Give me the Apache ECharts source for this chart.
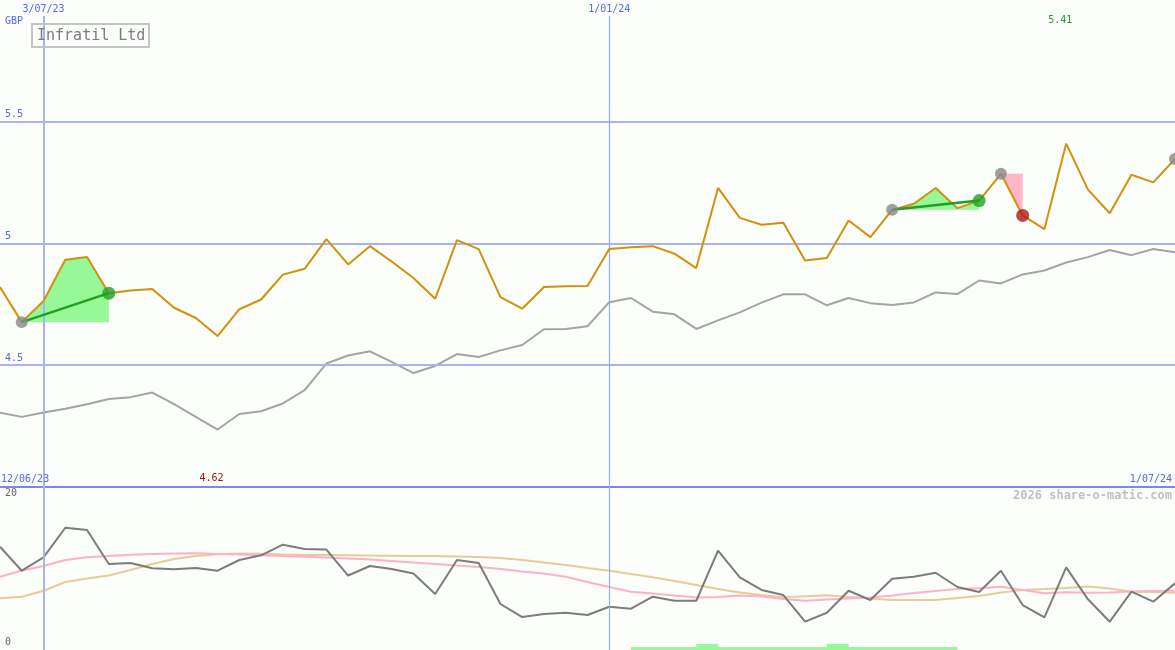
<!DOCTYPE html>
<html>
<head>
<meta charset="utf-8">
<script src="https://cdn.jsdelivr.net/npm/echarts@6/dist/echarts.min.js"></script>
<style>
html,body{margin:0;padding:0;background:#fbfefb;}
#c{width:1175px;height:650px;}
</style>
</head>
<body>
<div id="c"></div>
<script>
const categories = ['19/06/23','26/06/23','3/07/23','10/07/23','17/07/23','24/07/23','31/07/23','7/08/23','14/08/23','21/08/23',
'28/08/23','4/09/23','11/09/23','18/09/23','25/09/23','2/10/23','9/10/23','16/10/23','23/10/23','30/10/23',
'6/11/23','13/11/23','20/11/23','27/11/23','4/12/23','11/12/23','18/12/23','25/12/23','1/01/24','8/01/24',
'15/01/24','22/01/24','29/01/24','5/02/24','12/02/24','19/02/24','26/02/24','4/03/24','11/03/24','18/03/24',
'25/03/24','1/04/24','8/04/24','15/04/24','22/04/24','29/04/24','6/05/24','13/05/24','20/05/24','27/05/24',
'3/06/24','10/06/24','17/06/24','24/06/24','1/07/24'];

const price = [4.821,4.677,4.764,4.933,4.944,4.796,4.807,4.813,4.736,4.694,
4.62,4.730,4.770,4.872,4.896,5.018,4.914,4.989,4.926,4.858,
4.773,5.014,4.977,4.780,4.732,4.821,4.824,4.825,4.977,4.984,
4.989,4.958,4.899,5.228,5.105,5.077,5.085,4.930,4.940,5.094,
5.026,5.138,5.163,5.228,5.145,5.176,5.286,5.115,5.059,5.41,
5.221,5.124,5.282,5.251,5.347];

const relative = [4.305,4.288,4.306,4.321,4.340,4.361,4.369,4.388,4.340,4.288,
4.236,4.300,4.311,4.343,4.398,4.507,4.540,4.557,4.514,4.468,
4.497,4.546,4.534,4.561,4.583,4.648,4.649,4.660,4.759,4.776,
4.720,4.709,4.649,4.684,4.717,4.757,4.791,4.791,4.746,4.776,
4.755,4.747,4.758,4.799,4.792,4.848,4.836,4.873,4.889,4.922,
4.944,4.973,4.952,4.977,4.964];

const volatility = [13.94,10.70,12.51,16.50,16.19,11.61,11.74,11.03,10.89,11.07,
10.70,12.15,12.78,14.21,13.63,13.56,10.05,11.34,10.93,10.32,
7.56,12.15,11.74,6.21,4.45,4.86,5.03,4.72,5.84,5.57,
7.19,6.65,6.65,13.40,9.81,8.10,7.42,3.82,5.03,8.00,
6.75,9.62,9.89,10.43,8.50,7.83,10.70,6.07,4.41,11.16,
6.84,3.82,7.87,6.52,9.00];

const volAvgShort = [9.89,10.73,11.34,12.15,12.51,12.69,12.85,12.96,13.02,13.05,
12.96,12.89,12.78,12.69,12.59,12.48,12.35,12.21,12.01,11.81,
11.61,11.40,11.20,10.93,10.59,10.32,9.89,9.18,8.50,7.87,
7.62,7.35,7.09,7.15,7.35,7.22,6.88,6.65,6.82,6.95,
7.09,7.35,7.69,7.96,8.23,8.33,8.54,8.10,7.65,7.79,
7.73,7.76,7.89,7.96,8.00];

const volAvgLong = [6.98,7.19,8.00,9.18,9.65,10.05,10.80,11.61,12.28,12.69,
12.92,13.02,13.00,12.89,12.82,12.82,12.79,12.75,12.73,12.69,
12.69,12.62,12.55,12.42,12.15,11.81,11.47,11.07,10.70,10.26,
9.81,9.31,8.77,8.23,7.76,7.42,7.11,7.25,7.38,7.15,
6.95,6.75,6.75,6.75,7.02,7.29,7.76,8.10,8.23,8.37,
8.57,8.30,7.87,7.83,7.73];

const signalBars = [0,0,0,0,0,0,0,0,0,0,
0,0,0,0,0,0,0,0,0,0,
0,0,0,0,0,0,0,0,0,0.4,
0.4,0.4,0.8,0.4,0.4,0.4,0.4,0.4,0.8,0.4,
0.4,0.4,0.4,0.4,0,0,0,0,0,0,
0,0,0,0,0];

const priceTicks = [4.5, 5, 5.5];
const lowerTicks = [0, 20];
const dateMarks = ['3/07/23', '1/01/24'];
const rangeLabels = ['12/06/23', '1/07/24'];
const buySignals = [[1, 5], [41, 45]];
const sellSignals = [[46, 47]];
const endMarks = [54];
const currency = 'GBP';
const titleText = 'Infratil Ltd';
const credit = '2026 share-o-matic.com';

const MONO = '"DejaVu Sans Mono", monospace';
const BLUE = '#5566ee';
const GRIDBLUE = '#a6b4f6';

function rangeData(s, e) {
  return price.map((v, i) => (i >= s && i <= e) ? v : null);
}
function endsData(s, e) {
  return price.map((v, i) => (i === s || i === e) ? v : null);
}

const series = [];

series.push({
  type: 'line', xAxisIndex: 0, yAxisIndex: 0, data: relative, symbol: 'none', z: 2,
  lineStyle: { color: '#a4a4a4', width: 2 },
  markLine: {
    silent: true, symbol: 'none', animation: false,
    data: priceTicks.map(t => ({
      yAxis: t,
      lineStyle: { color: GRIDBLUE, width: 2, type: 'solid' },
      label: { show: true, position: 'insideStartTop', formatter: String(t), color: BLUE, fontFamily: MONO, fontSize: 10, distance: [5, 2] }
    })).concat(dateMarks.map((d, k) => ({
      xAxis: d, name: d,
      lineStyle: { color: k === 0 ? GRIDBLUE : '#99aaf8', width: k === 0 ? 2 : 1.2, type: 'solid' },
      label: { show: true, position: 'end', formatter: d, color: BLUE, fontFamily: MONO, fontSize: 10, distance: 2 }
    })))
  }
});

buySignals.forEach(([s, e]) => {
  series.push({
    type: 'line', xAxisIndex: 0, yAxisIndex: 0, data: rangeData(s, e), symbol: 'none', z: 3,
    lineStyle: { width: 0 }, areaStyle: { color: '#96f896', opacity: 1, origin: price[s] }
  });
});
sellSignals.forEach(([s, e]) => {
  series.push({
    type: 'line', xAxisIndex: 0, yAxisIndex: 0, data: rangeData(s, e), symbol: 'none', z: 3,
    lineStyle: { width: 0 }, areaStyle: { color: '#ffb6c8', opacity: 1, origin: price[s] }
  });
});

series.push({
  type: 'line', xAxisIndex: 0, yAxisIndex: 0, data: price, symbol: 'none', z: 5,
  lineStyle: { color: '#d4900a', width: 2 }
});

buySignals.forEach(([s, e]) => {
  series.push({
    type: 'line', xAxisIndex: 0, yAxisIndex: 0, data: endsData(s, e), connectNulls: true, symbol: 'none', z: 6,
    lineStyle: { color: '#22a022', width: 2.5 }
  });
});

const dots = [];
buySignals.forEach(([s, e]) => {
  dots.push({ value: [s, price[s]], itemStyle: { color: '#888888' }, symbolSize: 12 });
  dots.push({ value: [e, price[e]], itemStyle: { color: '#22a022' }, symbolSize: 13 });
});
sellSignals.forEach(([s, e]) => {
  dots.push({ value: [s, price[s]], itemStyle: { color: '#888888' }, symbolSize: 12 });
  dots.push({ value: [e, price[e]], itemStyle: { color: '#a81c1c' }, symbolSize: 13 });
});
endMarks.forEach(i => dots.push({ value: [i, price[i]], itemStyle: { color: '#888888' }, symbolSize: 12 }));
series.push({ type: 'scatter', xAxisIndex: 0, yAxisIndex: 0, data: dots, z: 7, symbol: 'circle' });

series.push({
  type: 'line', xAxisIndex: 1, yAxisIndex: 1, data: signalBars, step: 'end', symbol: 'none', z: 2,
  lineStyle: { width: 0 }, areaStyle: { color: '#96f896', opacity: 1 }
});
series.push({
  type: 'line', xAxisIndex: 1, yAxisIndex: 1, data: volAvgLong, symbol: 'none', z: 3,
  lineStyle: { color: '#e6cc9a', width: 2 }
});
series.push({
  type: 'line', xAxisIndex: 1, yAxisIndex: 1, data: volAvgShort, symbol: 'none', z: 3,
  lineStyle: { color: '#ffb0c8', width: 2 }
});
series.push({
  type: 'line', xAxisIndex: 1, yAxisIndex: 1, data: volatility, symbol: 'none', z: 4,
  lineStyle: { color: '#7c7c7c', width: 2 },
  markLine: {
    silent: true, symbol: 'none', animation: false, label: { show: false },
    data: dateMarks.map((d, k) => ({ xAxis: d, lineStyle: { color: k === 0 ? GRIDBLUE : '#99aaf8', width: k === 0 ? 2 : 1.2, type: 'solid' } }))
  }
});

const option = {
  animation: false,
  backgroundColor: '#fbfefb',
  title: {
    text: titleText, left: 32, top: 24, padding: [4, 4, 3, 5],
    borderColor: '#c4c4c4', borderWidth: 2,
    textStyle: { fontFamily: MONO, fontSize: 15, color: '#7a7a7a', fontWeight: 'normal', lineHeight: 16 }
  },
  grid: [
    { left: 0, right: 0, top: 16, height: 471 },
    { left: 0, right: 0, top: 487, height: 163 }
  ],
  xAxis: [
    { type: 'category', gridIndex: 0, data: categories, boundaryGap: false,
      axisLine: { show: true, lineStyle: { color: '#7a88ee', width: 2 } },
      axisTick: { show: false }, axisLabel: { show: false }, splitLine: { show: false } },
    { type: 'category', gridIndex: 1, data: categories, boundaryGap: false,
      axisLine: { show: false }, axisTick: { show: false }, axisLabel: { show: false }, splitLine: { show: false } }
  ],
  yAxis: [
    { type: 'value', gridIndex: 0, min: 4, max: 5.934, axisLine: { show: false }, axisTick: { show: false },
      axisLabel: { show: false }, splitLine: { show: false } },
    { type: 'value', gridIndex: 1, min: 0, max: 22, interval: 20, axisLine: { show: false }, axisTick: { show: false },
      splitLine: { show: false },
      axisLabel: { show: true, inside: true, margin: 5, showMaxLabel: false, verticalAlign: 'bottom',
        color: '#666666', fontFamily: MONO, fontSize: 10, padding: [0, 0, 3, 0],
        formatter: v => lowerTicks.indexOf(v) >= 0 ? String(v) : '' } }
  ],
  series: series
};

const chart = echarts.init(document.getElementById('c'));
chart.setOption(option);

let hiIdx = 0, loIdx = 0;
price.forEach((v, i) => { if (v > price[hiIdx]) hiIdx = i; if (v < price[loIdx]) loIdx = i; });
const hiX = chart.convertToPixel({ gridIndex: 0 }, [hiIdx, price[hiIdx]])[0];
const loX = chart.convertToPixel({ gridIndex: 0 }, [loIdx, price[loIdx]])[0];

const txt = (o) => Object.assign({ type: 'text', z: 100, silent: true }, o);
chart.setOption({
  graphic: [
    txt({ left: 5, top: 16, style: { text: currency, fill: BLUE, font: '10px ' + MONO } }),
    txt({ left: 1, top: 474, style: { text: rangeLabels[0], fill: BLUE, font: '10px ' + MONO } }),
    txt({ right: 3, top: 474, style: { text: rangeLabels[1], fill: BLUE, font: '10px ' + MONO } }),
    txt({ right: 3, top: 490, style: { text: credit, fill: '#c0c0c0', font: 'bold 12px ' + MONO } }),
    txt({ x: hiX - 6, y: 20, style: { text: price[hiIdx].toFixed(2), fill: '#229922', font: '10px ' + MONO, textAlign: 'center', textVerticalAlign: 'middle' } }),
    txt({ x: loX - 6, y: 478, style: { text: price[loIdx].toFixed(2), fill: '#aa1111', font: '10px ' + MONO, textAlign: 'center', textVerticalAlign: 'middle' } })
  ]
});
</script>
</body>
</html>
